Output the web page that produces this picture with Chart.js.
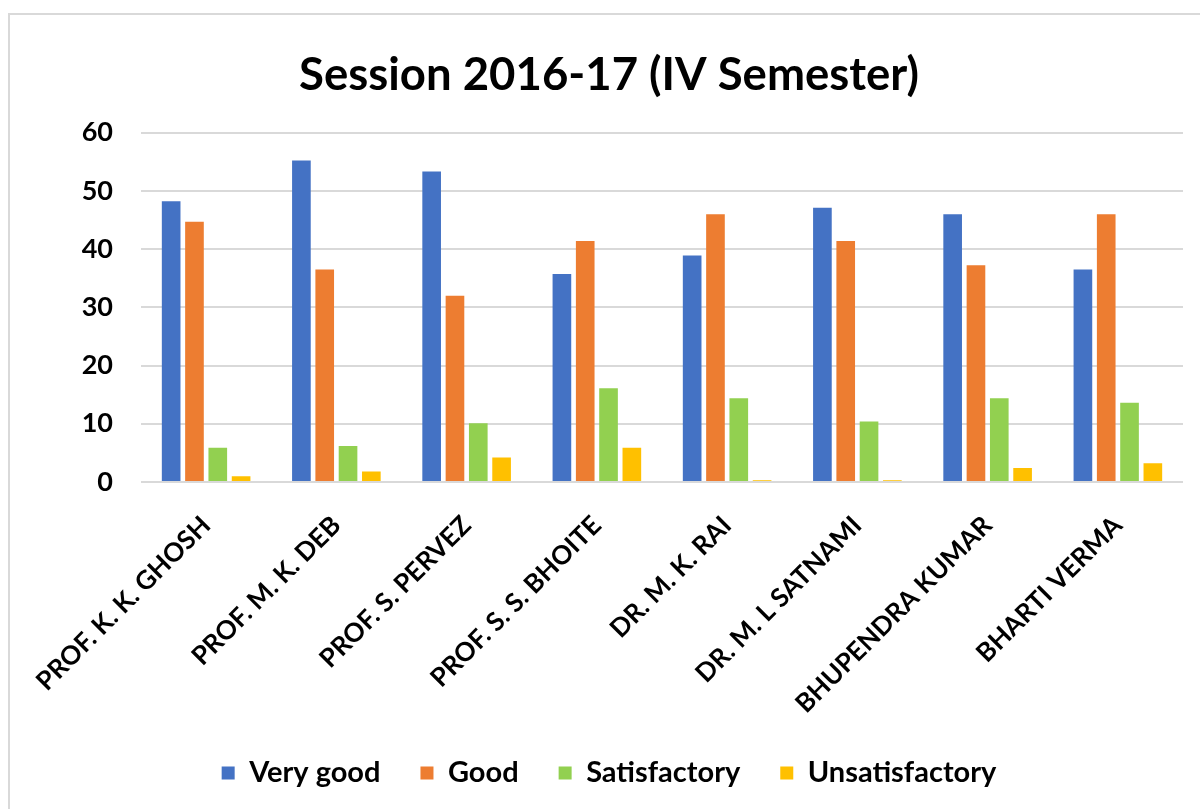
<!DOCTYPE html>
<html>
<head>
<meta charset="utf-8">
<script src="https://cdn.jsdelivr.net/npm/chart.js@4"></script>
<style>
  html, body { margin: 0; padding: 0; background: #fff; }
  #wrap { position: relative; width: 1200px; height: 809px; overflow: hidden; }
  #frame { position: absolute; left: 8px; top: 13px; width: 1300px; height: 900px;
           border-left: 2px solid #d9d9d9; border-top: 2px solid #d9d9d9; }
  canvas { position: absolute; left: 0; top: 0; }
</style>
</head>
<body>
<div id="wrap">
  <div id="frame"></div>
  <canvas id="feedbackChart" width="1200" height="809"></canvas>
</div>
<script>
// teachers (x axis)
const teachers = ['PROF. K. K. GHOSH', 'PROF. M. K. DEB', 'PROF. S. PERVEZ', 'PROF. S. S. BHOITE',
                  'DR. M. K. RAI', 'DR. M. L SATNAMI', 'BHUPENDRA KUMAR', 'BHARTI VERMA'];

// ratings per teacher
const veryGood       = [48.2, 55.2, 53.3, 35.7, 38.9, 47.1, 46.0, 36.5];
const good           = [44.7, 36.5, 32.0, 41.4, 46.0, 41.4, 37.2, 46.0];
const satisfactory   = [5.9, 6.2, 10.1, 16.1, 14.4, 10.4, 14.4, 13.6];
const unsatisfactory = [1.0, 1.8, 4.2, 5.9, 0.3, 0.3, 2.4, 3.2];

const yTicks = [0, 10, 20, 30, 40, 50, 60];

const font = 'Lato, "Open Sans", sans-serif';

function makeSet(label, values, color) {
    return {
        label: label,
        data: values,
        backgroundColor: color,
        borderWidth: 0,
        categoryPercentage: 0.716,
        barPercentage: 0.8
    };
}

window.onload = function() {
    const ctx = document.getElementById('feedbackChart').getContext('2d');
    new Chart(ctx, {
        type: 'bar',
        data: {
            labels: teachers,
            datasets: [
                makeSet('Very good', veryGood, '#4472C4'),
                makeSet('Good', good, '#ED7D31'),
                makeSet('Satisfactory', satisfactory, '#92D050'),
                makeSet('Unsatisfactory', unsatisfactory, '#FFC000')
            ]
        },
        options: {
            responsive: false,
            animation: false,
            // left padding shifts title/legend centre to match the original
            layout: { padding: { left: 35, right: 17, top: 0, bottom: 11.5 } },
            scales: {
                y: {
                    min: 0,
                    max: 60,
                    afterFit: (s) => { s.width = 106; },
                    afterBuildTicks: (s) => { s.ticks = yTicks.map(v => ({ value: v })); },
                    border: { display: false },
                    grid: { color: '#d9d9d9', lineWidth: 2, drawTicks: false },
                    ticks: {
                        padding: 28,
                        color: '#000',
                        font: { family: font, size: 27, weight: 'bold' }
                    }
                },
                x: {
                    afterFit: (s) => { s.height = 236.5; },
                    border: { display: false },
                    grid: { display: false },
                    ticks: {
                        autoSkip: false,
                        minRotation: 45,
                        maxRotation: 45,
                        padding: 20,
                        color: '#000',
                        font: { family: font, size: 26, weight: 'bold' }
                    }
                }
            },
            plugins: {
                title: {
                    display: true,
                    text: 'Session 2016-17 (IV Semester)',
                    color: '#000',
                    font: { family: font, size: 45.5, weight: 'bold' },
                    padding: { top: 48, bottom: 30 }
                },
                legend: {
                    position: 'bottom',
                    labels: {
                        boxWidth: 13,
                        boxHeight: 13,
                        padding: 40,
                        color: '#000',
                        font: { family: font, size: 29, weight: 'bold' }
                    }
                },
                tooltip: { enabled: false }
            }
        }
    });
};
</script>
</body>
</html>
